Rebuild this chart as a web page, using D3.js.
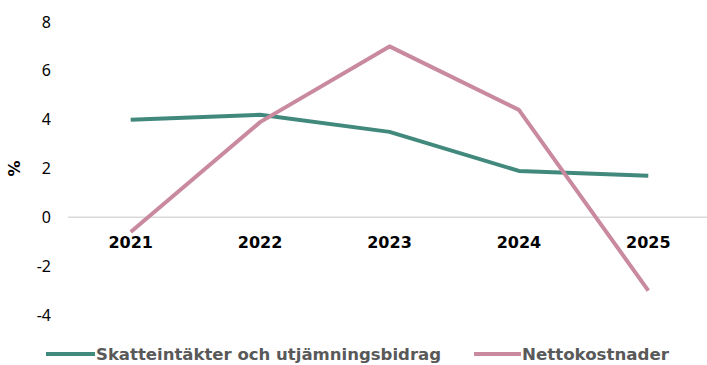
<!DOCTYPE html>
<html>
<head>
<meta charset="utf-8">
<script src="https://cdn.jsdelivr.net/npm/d3@7"></script>
<style>
  html, body { margin: 0; padding: 0; background: #fff; }
  svg { display: block; }
</style>
</head>
<body>
<svg id="chart" width="707" height="365"></svg>
<script>
// Annual change, per cent
const years = ["2021", "2022", "2023", "2024", "2025"];
const skatteintakter = [4.0, 4.2, 3.5, 1.9, 1.7];
const nettokostnader = [-0.6, 3.9, 7.0, 4.4, -3.0];
const yTicks = [-4, -2, 0, 2, 4, 6, 8];
const seriesNames = ["Skatteintäkter och utjämningsbidrag", "Nettokostnader"];
const seriesColors = ["#42897d", "#c98a9f"];

const svg = d3.select("#chart");

const x = d3.scaleBand().domain(years).range([66, 713]);
const y = d3.scaleLinear().domain([-4, 8]).range([315, 22]);

// y tick labels
svg.append("g")
  .selectAll("text")
  .data(yTicks)
  .join("text")
  .attr("x", 51)
  .attr("y", d => y(d))
  .attr("dy", "0.35em")
  .attr("text-anchor", "end")
  .attr("font-family", "Noto Sans, sans-serif")
  .attr("font-size", 16)
  .attr("fill", "#000")
  .text(d => d);

// y axis title
svg.append("text")
  .attr("transform", `translate(20,${y(2)}) rotate(-90)`)
  .attr("text-anchor", "middle")
  .attr("font-family", "DejaVu Sans, sans-serif")
  .attr("font-weight", "bold")
  .attr("font-size", 16)
  .text("%");

// zero line
svg.append("line")
  .attr("x1", 68).attr("x2", 707)
  .attr("y1", y(0)).attr("y2", y(0))
  .attr("stroke", "#d9d9d9")
  .attr("stroke-width", 1.5);

// category labels
svg.append("g")
  .selectAll("text")
  .data(years)
  .join("text")
  .attr("x", d => x(d) + x.bandwidth() / 2)
  .attr("y", 248)
  .attr("text-anchor", "middle")
  .attr("font-family", "DejaVu Sans, sans-serif")
  .attr("font-weight", "bold")
  .attr("font-size", 16)
  .attr("fill", "#000")
  .text(d => d);

// lines
const line = d3.line()
  .x((d, i) => x(years[i]) + x.bandwidth() / 2)
  .y(d => y(d));

[skatteintakter, nettokostnader].forEach((vals, i) => {
  svg.append("path")
    .datum(vals)
    .attr("d", line)
    .attr("fill", "none")
    .attr("stroke", seriesColors[i])
    .attr("stroke-width", 4)
    .attr("stroke-linejoin", "round");
});

// legend
const legend = [
  { x0: 46, x1: 95, textWidth: 345 },
  { x0: 474, x1: 521, textWidth: 147 }
];
legend.forEach((l, i) => {
  svg.append("line")
    .attr("x1", l.x0).attr("x2", l.x1)
    .attr("y1", 354).attr("y2", 354)
    .attr("stroke", seriesColors[i])
    .attr("stroke-width", 4);
  svg.append("text")
    .attr("x", l.x1 + 1)
    .attr("y", 360)
    .attr("font-family", "DejaVu Sans Condensed, DejaVu Sans, sans-serif")
    .attr("font-weight", "bold")
    .attr("font-size", 16)
    .attr("fill", "#595959")
    .attr("textLength", l.textWidth)
    .attr("lengthAdjust", "spacingAndGlyphs")
    .text(seriesNames[i]);
});
</script>
</body>
</html>
